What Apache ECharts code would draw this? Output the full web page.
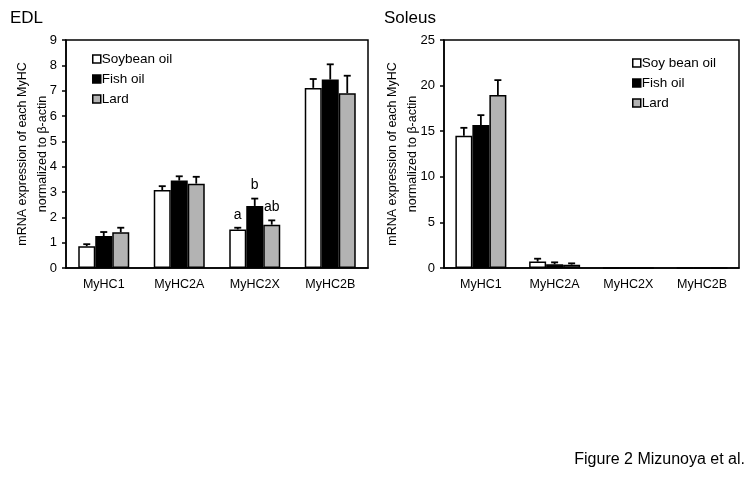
<!DOCTYPE html>
<html>
<head>
  <meta charset="utf-8">
</head>
<body style="height: 100%; margin: 0; background: #fff">
  <div id="container" style="width: 751px; height: 482px"></div>

  <script type="text/javascript" src="https://cdn.jsdelivr.net/npm/echarts@6/dist/echarts.min.js"></script>
  <script type="text/javascript">
    var categories = ['MyHC1', 'MyHC2A', 'MyHC2X', 'MyHC2B'];

    // EDL
    var edlSoy = [0.86, 3.08, 1.52, 7.11];
    var edlSoyErr = [0.08, 0.15, 0.07, 0.35];
    var edlFish = [1.26, 3.45, 2.45, 7.44];
    var edlFishErr = [0.16, 0.17, 0.29, 0.6];
    var edlLard = [1.41, 3.33, 1.71, 6.9];
    var edlLardErr = [0.18, 0.27, 0.17, 0.69];
    var edlLetters = [['', '', 'a', ''], ['', '', 'b', ''], ['', '', 'ab', '']];

    // Soleus
    var solSoy = [14.5, 0.7, 0, 0];
    var solSoyErr = [0.87, 0.32, 0, 0];
    var solFish = [15.67, 0.4, 0, 0];
    var solFishErr = [1.09, 0.22, 0, 0];
    var solLard = [18.96, 0.37, 0, 0];
    var solLardErr = [1.64, 0.14, 0, 0];

    var edlTicks = [0, 1, 2, 3, 4, 5, 6, 7, 8, 9];
    var solTicks = [0, 5, 10, 15, 20, 25];

    var colors = ['#ffffff', '#000000', '#b3b3b3'];
    var FONT = 'Liberation Sans';
    var BAR_W = 17;

    var dom = document.getElementById('container');
    var myChart = echarts.init(dom, null, { renderer: 'canvas' });

    function barSeries(name, data, idx, gi) {
      return {
        name: name,
        type: 'bar',
        xAxisIndex: gi,
        yAxisIndex: gi,
        data: data,
        barWidth: BAR_W,
        barGap: '0%',
        z: 2,
        itemStyle: { color: colors[idx], borderColor: '#000', borderWidth: 1.5 }
      };
    }

    function errSeries(vals, errs, idx, gi, letters) {
      return {
        type: 'custom',
        xAxisIndex: gi,
        yAxisIndex: gi,
        z: 1,
        silent: true,
        data: vals.map(function (v, i) { return [i, v, errs[i]]; }),
        renderItem: function (params, api) {
          var i = api.value(0);
          var v = api.value(1);
          var e = api.value(2);
          var base = api.coord([i, v]);
          var x = base[0] + (idx - 1) * BAR_W;
          var top = api.coord([i, v + e])[1];
          var children = [];
          if (e > 0) {
            children.push({
              type: 'line',
              shape: { x1: x, y1: base[1], x2: x, y2: top },
              style: { stroke: '#000', lineWidth: 1.8 }
            });
            children.push({
              type: 'line',
              shape: { x1: x - 3.5, y1: top, x2: x + 3.5, y2: top },
              style: { stroke: '#000', lineWidth: 1.8 }
            });
          }
          var lab = letters ? letters[idx][params.dataIndex] : '';
          if (lab) {
            children.push({
              type: 'text',
              style: {
                text: lab, x: x, y: top - 6,
                textAlign: 'center', textVerticalAlign: 'bottom',
                font: '14px ' + FONT, fill: '#000'
              }
            });
          }
          return { type: 'group', children: children };
        }
      };
    }

    function yAxis(gi, max, interval, gap) {
      return {
        type: 'value',
        gridIndex: gi,
        min: 0,
        max: max,
        interval: interval,
        name: 'mRNA expression of each MyHC\nnormalized to β-actin',
        nameLocation: 'middle',
        nameRotate: 90,
        nameGap: gap,
        nameMoveOverlap: false,
        nameTextStyle: { fontFamily: FONT, fontSize: 12.5, color: '#000', lineHeight: 20 },
        axisLine: { show: true, lineStyle: { color: '#000', width: 1.5 } },
        axisTick: { show: true, length: 4, lineStyle: { color: '#000', width: 1.5 } },
        axisLabel: { fontFamily: FONT, fontSize: 13, color: '#000', margin: 9 },
        splitLine: { show: false }
      };
    }

    function xAxis(gi) {
      return {
        type: 'category',
        gridIndex: gi,
        data: categories,
        axisLine: { show: true, lineStyle: { color: '#000', width: 1.5 } },
        axisTick: { show: false },
        axisLabel: { fontFamily: FONT, fontSize: 12.5, color: '#000', margin: 10 }
      };
    }

    var legendStyle = {
      orient: 'vertical',
      icon: 'rect',
      itemWidth: 8,
      itemHeight: 8,
      itemGap: 6,
      itemStyle: { borderColor: '#000', borderWidth: 1.5 },
      textStyle: { fontFamily: FONT, fontSize: 13.5, color: '#000', padding: [0, 0, 0, -4] },
      padding: 0,
      selectedMode: false
    };

    var option = {
      animation: false,
      title: [
        { text: 'EDL', left: 5, top: 5, textStyle: { fontFamily: FONT, fontSize: 17, fontWeight: 'normal', color: '#000' } },
        { text: 'Soleus', left: 379, top: 5, textStyle: { fontFamily: FONT, fontSize: 17, fontWeight: 'normal', color: '#000' } }
      ],
      graphic: [{
        type: 'text',
        right: 6,
        top: 452,
        style: { text: 'Figure 2 Mizunoya et al.', font: '16px ' + FONT, fill: '#000' }
      }],
      legend: [
        Object.assign({ left: 92, top: 52, data: ['Soybean oil', 'Fish oil', 'Lard'] }, legendStyle),
        Object.assign({ left: 632, top: 56, data: ['Soy bean oil', 'Fish oil', 'Lard'] }, legendStyle)
      ],
      grid: [
        { left: 66, right: 383, top: 40, bottom: 214, outerBoundsMode: 'none', containLabel: false, show: true, borderColor: '#000', borderWidth: 1.5, backgroundColor: 'transparent' },
        { left: 444, right: 12, top: 40, bottom: 214, outerBoundsMode: 'none', containLabel: false, show: true, borderColor: '#000', borderWidth: 1.5, backgroundColor: 'transparent' }
      ],
      xAxis: [xAxis(0), xAxis(1)],
      yAxis: [yAxis(0, edlTicks[edlTicks.length - 1], 1, 13), yAxis(1, solTicks[solTicks.length - 1], 5, 21)],
      series: [
        barSeries('Soybean oil', edlSoy, 0, 0),
        barSeries('Fish oil', edlFish, 1, 0),
        barSeries('Lard', edlLard, 2, 0),
        errSeries(edlSoy, edlSoyErr, 0, 0, edlLetters),
        errSeries(edlFish, edlFishErr, 1, 0, edlLetters),
        errSeries(edlLard, edlLardErr, 2, 0, edlLetters),
        barSeries('Soy bean oil', solSoy, 0, 1),
        barSeries('Fish oil', solFish, 1, 1),
        barSeries('Lard', solLard, 2, 1),
        errSeries(solSoy, solSoyErr, 0, 1, null),
        errSeries(solFish, solFishErr, 1, 1, null),
        errSeries(solLard, solLardErr, 2, 1, null)
      ]
    };

    myChart.setOption(option);
    window.addEventListener('resize', myChart.resize);
  </script>
</body>
</html>
